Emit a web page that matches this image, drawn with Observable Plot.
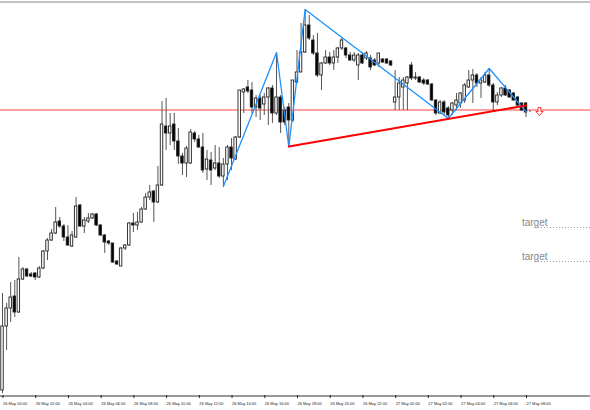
<!DOCTYPE html>
<html><head><meta charset="utf-8">
<script src="https://cdn.jsdelivr.net/npm/d3@7"></script>
<script src="https://cdn.jsdelivr.net/npm/@observablehq/plot@0.6"></script>
<style>body{margin:0;background:#fff}#chart svg{display:block}</style>
</head><body><div id="chart"></div>
<script>
// 15-minute candles, 26 May 00:00 -> 27 May 08:15 (price in chart units)
const openP  = [10,74,92,104,88,121,131,126,127,123,132,149,160,167,179,174,163,154,163,195,174,179,182,186,175,165,159,157,139,134,152,155,177,175,178,191,203,209,198,215,274,267,276,259,244,237,237,267,261,253,231,240,232,237,224,236,253,241,263,308,313,310,293,302,296,303,312,287,303,290,293,280,318,328,348,375,360,347,325,337,343,337,343,352,352,345,340,335,345,342,342,340,337,341,341,339,298,303,313,317,335,322,323,320,320,316,300,287,298,292,290,295,297,300,313,320,325,317,318,325,315,298,305,312,310,307,303,297,297,289];
const highP  = [107,97,118,120,143,133,132,128,128,134,150,162,171,193,183,176,175,169,203,196,183,187,187,187,176,166,160,157,140,153,156,178,187,188,193,207,215,210,234,299,302,287,287,272,247,254,271,269,265,267,250,248,255,253,242,255,262,264,310,312,320,318,305,305,307,313,315,348,305,293,297,320,350,377,391,385,365,367,338,350,348,350,353,362,353,348,348,347,348,349,345,342,347,342,342,340,330,323,323,324,338,328,324,322,321,317,301,300,300,294,298,307,308,317,330,331,327,323,328,332,317,308,313,315,311,308,304,298,298,290];
const lowP   = [7,50,78,83,87,120,123,123,120,122,131,140,159,166,172,159,154,153,162,173,167,177,181,174,164,147,155,137,135,134,150,154,168,170,177,190,200,178,197,214,250,255,250,236,225,223,236,258,252,227,220,215,230,222,214,220,230,240,262,287,307,287,283,280,285,275,277,285,267,275,254,278,317,328,347,360,345,323,310,336,335,330,337,350,342,339,338,320,336,340,330,334,333,337,336,334,290,290,290,290,320,320,317,315,315,299,285,286,285,282,285,290,292,297,312,297,313,302,317,313,288,295,303,304,302,299,293,289,283,288];
const closeP = [74,92,103,88,121,131,124,124,123,132,149,160,167,178,174,163,155,165,194,174,180,182,186,175,165,158,157,138,136,152,155,177,175,178,191,203,208,198,215,276,267,274,259,244,237,252,268,261,253,230,241,230,237,224,236,253,242,263,310,311,309,293,302,292,303,312,287,303,278,278,280,320,328,348,375,362,347,325,337,343,337,343,352,360,345,340,345,345,337,347,333,335,347,338,337,335,303,317,320,323,322,323,318,317,316,300,287,298,288,285,297,300,307,315,320,325,317,320,325,315,298,305,312,305,303,300,295,290,288,289];
const timeLabels = ["26 May 00:00","26 May 02:00","26 May 04:00","26 May 06:00","26 May 08:00","26 May 10:00","26 May 12:00","26 May 14:00","26 May 16:00","26 May 18:00","26 May 20:00","26 May 22:00","27 May 00:00","27 May 02:00","27 May 04:00","27 May 06:00","27 May 08:00"];
const barsPerLabel = 8;
// ZigZag indicator pivots (bar index, price)
const zigzagBar   = [54,67,70,74,109,119,128];
const zigzagPrice = [214,348,254,391,282,332,289];
// red trend line
const trendBar   = [70,128];
const trendPrice = [254,295];
// horizontal level
const levelPrice = 290.5;
// targets
const targetPrice = [173,139];
const targetText  = ["target","target"];
// sell signal arrow
const signalBar = 131.3, signalPrice = 289;

const candles = openP.map((o,i)=>({i,o,h:highP[i],l:lowP[i],c:closeP[i]}));
const zigzag = zigzagBar.map((b,k)=>({b,p:zigzagPrice[k]}));
const trend = trendBar.map((b,k)=>({b,p:trendPrice[k]}));
const targets = targetPrice.map((p,k)=>({p,t:targetText[k]}));
const tickBars = timeLabels.map((_,k)=>k*barsPerLabel);
const labelOf = new Map(tickBars.map((b,k)=>[b,timeLabels[k]]));

// hollow down arrow symbol
const downArrow = {
  draw(ctx, size) {
    const s = Math.sqrt(size) / 8;
    const pts = [[-1.4,-4],[1.4,-4],[1.4,0],[3.6,0],[0,4],[-3.6,0],[-1.4,0]];
    ctx.moveTo(pts[0][0]*s, pts[0][1]*s);
    for (const [px,py] of pts.slice(1)) ctx.lineTo(px*s, py*s);
    ctx.closePath();
  }
};

const X0 = -0.49, X1 = 143.77;
const chart = Plot.plot({
  width: 590, height: 410,
  marginLeft: 0, marginRight: 0, marginTop: 0, marginBottom: 15,
  style: {background: "#fff", fontFamily: "'Liberation Sans', Arial, sans-serif"},
  x: {type: "linear", domain: [X0, X1]},
  y: {domain: [5, 400], axis: null},
  marks: [
    Plot.ruleY([398.5], {stroke: "#888", strokeWidth: 1}),
    Plot.ruleY([levelPrice], {stroke: "#ff0000", strokeWidth: 1, strokeOpacity: 0.75}),
    Plot.ruleX(candles, {x: "i", y1: "l", y2: "h", stroke: "#555", strokeWidth: 1}),
    Plot.rect(candles, {
      x1: d => d.i - 0.3, x2: d => d.i + 0.3,
      y1: d => Math.min(d.o, d.c), y2: d => Math.max(d.o, d.c),
      fill: d => d.c >= d.o ? "#fff" : "#000", stroke: "#222", strokeWidth: 0.9
    }),
    Plot.line(zigzag, {x: "b", y: "p", stroke: "#1e90ff", strokeWidth: 1.3}),
    Plot.line(trend, {x: "b", y: "p", stroke: "#ff0000", strokeWidth: 2}),
    Plot.ruleY(targets, {y: "p", x1: 130.3, x2: X1, stroke: "#999", strokeWidth: 1, strokeDasharray: "1,2"}),
    Plot.text(targets, {x: 127, y: "p", text: "t", textAnchor: "start", dy: -5, fill: "#888", fontSize: 10}),
    Plot.dot([{b: signalBar, p: signalPrice}], {x: "b", y: "p", symbol: downArrow, r: 4.5, stroke: "#ff3030", strokeWidth: 1, fill: "#fff"}),
    Plot.ruleY([4.5], {stroke: "#333", strokeWidth: 1}),
    Plot.axisX({ticks: tickBars, tickFormat: d => labelOf.get(d), tickSize: 3, tickPadding: 4,
      textAnchor: "start", dx: 0.5, fontSize: 4, color: "#222", label: null})
  ]
});
document.getElementById("chart").append(chart);
</script>
</body></html>
